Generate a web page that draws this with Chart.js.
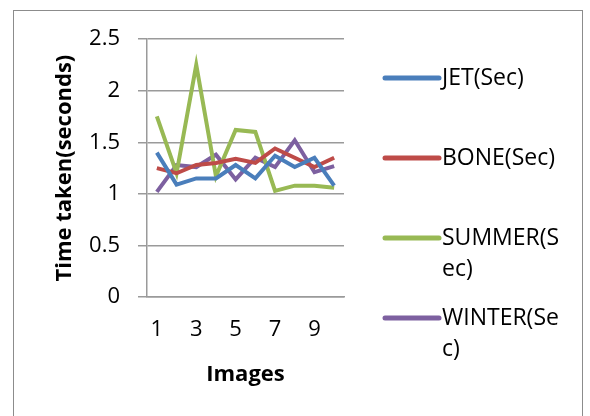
<!DOCTYPE html>
<html>
<head>
<meta charset="utf-8">
<script src="https://cdn.jsdelivr.net/npm/chart.js@4"></script>
<style>
  html, body { margin: 0; padding: 0; background: #fff; overflow: hidden; }
  .wrap { position: relative; width: 590px; height: 416px; }
  .frame { position: absolute; left: 13px; top: 10px; width: 570px; height: 430px; border: 1.5px solid #8c8c8c; box-sizing: border-box; }
  canvas { position: absolute; left: 0; top: 0; }
</style>
</head>
<body>
<div class="wrap">
  <div class="frame"></div>
  <canvas id="chart" width="590" height="416"></canvas>
</div>
<script>
const images = ["1", "2", "3", "4", "5", "6", "7", "8", "9", "10"];
const jet = [1.40, 1.09, 1.15, 1.15, 1.28, 1.15, 1.37, 1.26, 1.35, 1.08];
const bone = [1.25, 1.20, 1.28, 1.30, 1.34, 1.30, 1.44, 1.35, 1.26, 1.35];
const summer = [1.75, 1.20, 2.25, 1.17, 1.62, 1.60, 1.03, 1.08, 1.08, 1.06];
const winter = [1.02, 1.28, 1.26, 1.38, 1.14, 1.35, 1.26, 1.52, 1.21, 1.27];
const seriesNames = ["JET(Sec)", "BONE(Sec)", "SUMMER(Sec)", "WINTER(Sec)"];
const seriesColors = ["#4a7ebb", "#be4b48", "#98b954", "#7d60a0"];
const yTicks = [0, 0.5, 1, 1.5, 2, 2.5];

const font = "'Open Sans', 'Liberation Sans', sans-serif";
const gridColor = "#9a9a9a";

// legend on the right, drawn by hand so long names wrap like the original
const sideLegend = {
  id: "sideLegend",
  afterDraw(chart) {
    const ctx = chart.ctx;
    const area = chart.chartArea;
    const x0 = area.right + 41;
    const swatch = 54;
    const maxW = 122;
    let y = 78;
    ctx.save();
    ctx.font = "23px " + font;
    ctx.textBaseline = "middle";
    chart.data.datasets.forEach((ds) => {
      ctx.strokeStyle = ds.borderColor;
      ctx.lineWidth = 5;
      ctx.lineCap = "round";
      ctx.beginPath();
      ctx.moveTo(x0, y);
      ctx.lineTo(x0 + swatch, y);
      ctx.stroke();
      // break by character when too wide
      const lines = [];
      let cur = "";
      for (const ch of ds.label) {
        if (ctx.measureText(cur + ch).width > maxW && cur) {
          lines.push(cur);
          cur = ch;
        } else {
          cur += ch;
        }
      }
      lines.push(cur);
      ctx.fillStyle = "#000";
      lines.forEach((ln, i) => ctx.fillText(ln, x0 + swatch + 3, y + i * 31));
      y += 80;
    });
    ctx.restore();
  }
};

const datasets = [jet, bone, summer, winter].map((vals, i) => ({
  label: seriesNames[i],
  data: vals,
  borderColor: seriesColors[i],
  backgroundColor: seriesColors[i],
  borderWidth: 4,
  pointRadius: 0,
  tension: 0,
  fill: false
}));

new Chart(document.getElementById("chart"), {
  type: "line",
  data: { labels: images, datasets: datasets },
  options: {
    responsive: false,
    animation: false,
    layout: { padding: { left: 48, top: 39, right: 246, bottom: 24 } },
    plugins: { legend: { display: false }, tooltip: { enabled: false } },
    scales: {
      x: {
        offset: true,
        grid: { display: false, drawTicks: false },
        border: { display: true, color: gridColor, width: 1.5 },
        ticks: {
          autoSkip: false,
          maxRotation: 0,
          padding: 19,
          color: "#000",
          font: { family: font, size: 22 },
          callback: (v, i) => (i % 2 === 0 ? images[i] : "")
        },
        title: {
          display: true,
          text: "Images",
          color: "#000",
          font: { family: font, size: 22, weight: "bold" },
          padding: { top: 0, bottom: 4 }
        }
      },
      y: {
        min: 0,
        max: 2.5,
        afterBuildTicks: (scale) => { scale.ticks = yTicks.map((v) => ({ value: v })); },
        afterFit: (scale) => { scale.width = 99; },
        grid: { color: gridColor, lineWidth: 1.5, tickLength: 9 },
        border: { display: true, color: gridColor, width: 1.5 },
        ticks: {
          padding: 18,
          color: "#000",
          font: { family: font, size: 22 },
          callback: (v) => String(v)
        },
        title: {
          display: true,
          text: "Time taken(seconds)",
          color: "#000",
          font: { family: font, size: 22, weight: "bold" },
          padding: { top: 4, bottom: 0 }
        }
      }
    }
  },
  plugins: [sideLegend]
});
</script>
</body>
</html>
